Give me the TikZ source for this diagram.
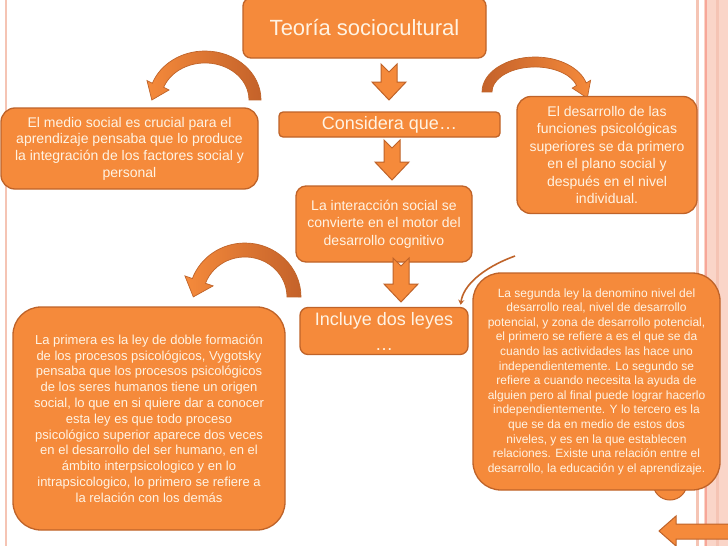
\documentclass[tikz,border=0pt]{standalone}
\usepackage{fontspec}
\setmainfont{Liberation Sans}
\usetikzlibrary{calc, arrows.meta}
\definecolor{orfill}{HTML}{F58A3B}
\definecolor{ordraw}{HTML}{BF6329}
\definecolor{ordark}{HTML}{C4622A}
\definecolor{txtcol}{HTML}{FFF3E3}
\definecolor{pinkline}{HTML}{F5C4B4}
\definecolor{pinkband}{HTML}{FAD5C8}
\tikzset{box/.style={draw=ordraw, line width=1.3pt, fill=orfill, text=txtcol, align=center, inner sep=0pt},
         blockarr/.style={draw=ordraw, line width=1pt, fill=orfill},
         curl/.style={draw=ordraw, line width=0.7pt, left color=orfill, right color=ordark},
         link/.style={draw=ordraw, line width=1.6pt, -{Stealth[length=5pt, width=6pt]}}
        }

\begin{document}
\begin{tikzpicture}[x=1pt, y=-1pt]
  \useasboundingbox (0,0) rectangle (728,546);
  \fill[white] (0,0) rectangle (728,546);
  % side stripes
  \draw[pinkline, line width=2pt] (6,0) -- (6,546);
  \fill[pinkband] (704,0) rectangle (728,546);
  \draw[pinkline, line width=2.5pt] (697.5,0) -- (697.5,546);
  \draw[pinkline!85!red, line width=2pt] (706,0) -- (706,546);
  \draw[pinkline, line width=3pt] (717,0) -- (717,546);

  % curved arrows
  \draw[curl] (261,100) arc[start angle=0, end angle=-160, x radius=56, y radius=49] -- (147,80.6) -- (151.8,100) -- (169,90) -- (163.7,87.3) arc[start angle=-160, end angle=0, x radius=44, y radius=37] -- cycle;
  \draw[curl, left color=ordark, right color=orfill] (482,92) arc[start angle=180, end angle=345, x radius=53, y radius=35] -- (590.6,80.3) -- (587.3,98) -- (572.2,88.1) -- (576.5,85.5) arc[start angle=345, end angle=180, x radius=43, y radius=25] -- cycle;
  \draw[curl] (301,297) arc[start angle=0, end angle=-160, x radius=56, y radius=54] -- (184.9,275.9) -- (193.3,296.9) -- (213.1,285.9) -- (205.5,283.3) arc[start angle=-160, end angle=0, x radius=42, y radius=40] -- cycle;

  % blob behind the right box
  \draw[blockarr] (670,483) circle (17);

  % boxes
  \node[box, rounded corners=8pt, minimum width=243pt, minimum height=60pt, font=\fontsize{22}{26}\selectfont] (title) at (364.5,28) {Teoría sociocultural};
  \node[box, rounded corners=4pt, minimum width=221pt, minimum height=25pt, font=\fontsize{18}{22}\selectfont] (consid) at (389.5,124.5) {Considera que…};
  \node[box, rounded corners=10pt, minimum width=176pt, minimum height=76pt, font=\fontsize{14}{17.5}\selectfont] (interac) at (384,224) {La interacción social se\\convierte en el motor del\\desarrollo cognitivo};
  \node[box, rounded corners=8pt, minimum width=168pt, minimum height=47pt, font=\fontsize{18}{25}\selectfont] (leyes) at (384,331) {Incluye dos leyes\\…};
  \node[box, rounded corners=14pt, minimum width=257pt, minimum height=81pt, font=\fontsize{14}{16.7}\selectfont] (medio) at (129.5,148.5) {El medio social es crucial para el\\aprendizaje pensaba que lo produce\\la integración de los factores social y\\personal};
  \node[box, rounded corners=14pt, minimum width=180pt, minimum height=117pt, font=\fontsize{14}{17.5}\selectfont] (desarr) at (607,155) {El desarrollo de las\\funciones psicológicas\\superiores se da primero\\en el plano social y\\después en el nivel\\individual.};
  \node[box, rounded corners=28pt, minimum width=272pt, minimum height=223pt, font=\fontsize{13}{15.8}\selectfont] (primera) at (149,418.5) {La primera es la ley de doble formación\\de los procesos psicológicos, Vygotsky\\pensaba que los procesos psicológicos\\de los seres humanos tiene un origen\\social, lo que en si quiere dar a conocer\\esta ley es que todo proceso\\psicológico superior aparece dos veces\\en el desarrollo del ser humano, en el\\ámbito interpsicologico y en lo\\intrapsicologico, lo primero se refiere a\\la relación con los demás};
  \node[box, rounded corners=28pt, minimum width=247pt, minimum height=217pt, font=\fontsize{12}{14.6}\selectfont] (segunda) at (596.5,381.5) {La segunda ley la denomino nivel del\\desarrollo real, nivel de desarrollo\\potencial, y zona de desarrollo potencial,\\el primero se refiere a es el que se da\\cuando las actividades las hace uno\\independientemente. Lo segundo se\\refiere a cuando necesita la ayuda de\\alguien pero al final puede lograr hacerlo\\independientemente. Y lo tercero es la\\que se da en medio de estos dos\\niveles, y es en la que establecen\\relaciones. Existe una relación entre el\\desarrollo, la educación y el aprendizaje.};

  % block arrows
  \foreach \cx/\ty/\len in {389/64/36, 392/140/40, 401/258/44}{
    \draw[blockarr] (\cx-8,\ty) -- (\cx,\ty+8) -- (\cx+8,\ty) -- (\cx+8,\ty+\len-18) -- (\cx+17,\ty+\len-18) -- (\cx,\ty+\len) -- (\cx-17,\ty+\len-18) -- (\cx-8,\ty+\len-18) -- cycle;
  }
  \draw[blockarr] (659,531) -- (676,516) -- (676,524) -- (730,524) -- (730,539) -- (676,539) -- (676,546) -- cycle;

  % link to the second law
  \coordinate (lk) at (515,256);
  \draw[link] (lk) .. controls (482,268) and (463,286) .. ($(leyes.north east)+(-8,-2)$);
\end{tikzpicture}
\end{document}
